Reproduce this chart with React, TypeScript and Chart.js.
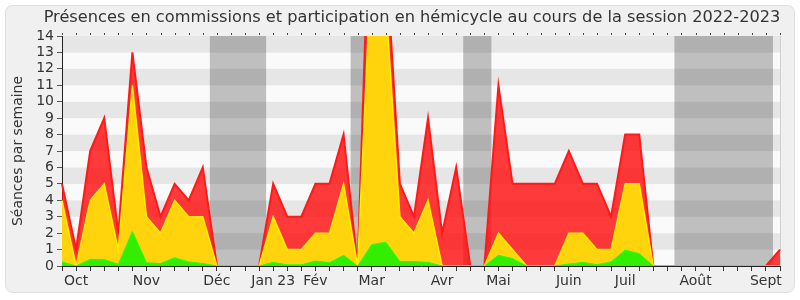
import React, { useEffect, useRef } from 'react';
import { Chart, registerables } from 'chart.js';

Chart.register(...registerables);

const titleText = 'Présences en commissions et participation en hémicycle au cours de la session 2022-2023';
const yTitle = 'Séances par semaine';

// one category per week (52 weeks), month name on the week where it is printed
const weekLabels = [
  '', 'Oct', '', '', '', '',
  'Nov', '', '', '', '',
  'Déc', '', '', '',
  'Jan 23', '', '',
  'Fév', '', '', '',
  'Mar', '', '', '', '',
  'Avr', '', '', '',
  'Mai', '', '', '', '',
  'Juin', '', '', '',
  'Juil', '', '', '', '',
  'Août', '', '', '', '',
  'Sept', '',
];

// total (red), commissions (yellow), hémicycle (green)
const redValues = [
  5, 1, 7, 9, 2, 13, 6, 3, 5, 4, 6, 0, 0, 0, 0, 5, 3, 3, 5, 5, 8, 0, 26, 19, 5, 3,
  9, 2, 6, 0, 0, 11, 5, 5, 5, 5, 7, 5, 5, 3, 8, 8, 0, 0, 0, 0, 0, 0, 0, 0, 0, 1,
];
const yellowValues = [
  4, 0, 4, 5, 1, 11, 3, 2, 4, 3, 3, 0, 0, 0, 0, 3, 1, 1, 2, 2, 5, 0, 19, 16, 3, 2,
  4, 0, 0, 0, 0, 2, 1, 0, 0, 0, 2, 2, 1, 1, 5, 5, 0, 0, 0, 0, 0, 0, 0, 0, 0, 0,
];
const greenValues = [
  0.25, 0, 0.4, 0.4, 0.1, 2.1, 0.2, 0.15, 0.5, 0.25, 0.15, 0, 0, 0, 0, 0.22, 0.07, 0.07, 0.3, 0.2, 0.65, 0, 1.3, 1.45, 0.27, 0.27,
  0.22, 0, 0, 0, 0, 0.65, 0.45, 0, 0, 0, 0.12, 0.22, 0.08, 0.25, 0.97, 0.75, 0, 0, 0, 0, 0, 0, 0, 0, 0, 0,
];

// holiday periods, in week-index units
const vacationBands: [number, number][] = [
  [10.5, 14.5],
  [20.5, 21.5],
  [28.5, 30.5],
  [43.5, 50.5],
];

const Y_MAX = 14;

const backgroundPlugin = {
  id: 'bgPanel',
  beforeDraw(chart: any) {
    const { ctx, chartArea, scales } = chart;
    const x = scales.x;
    const y = scales.y;
    ctx.save();
    ctx.fillStyle = '#ffffff';
    ctx.fillRect(0, 0, chart.width, chart.height);
    // panel
    const px = 5.5, py = 5.5, pw = 789, ph = 287, r = 7;
    ctx.beginPath();
    ctx.moveTo(px + r, py);
    ctx.lineTo(px + pw - r, py);
    ctx.arcTo(px + pw, py, px + pw, py + r, r);
    ctx.lineTo(px + pw, py + ph - r);
    ctx.arcTo(px + pw, py + ph, px + pw - r, py + ph, r);
    ctx.lineTo(px + r, py + ph);
    ctx.arcTo(px, py + ph, px, py + ph - r, r);
    ctx.lineTo(px, py + r);
    ctx.arcTo(px, py, px + r, py, r);
    ctx.closePath();
    ctx.fillStyle = '#f0f0f0';
    ctx.fill();
    ctx.strokeStyle = '#dedede';
    ctx.lineWidth = 1;
    ctx.stroke();
    // stripes
    for (let v = 0; v < Y_MAX; v++) {
      const yTop = y.getPixelForValue(v + 1);
      const yBot = y.getPixelForValue(v);
      ctx.fillStyle = v % 2 === 0 ? '#fafafa' : '#e6e6e6';
      ctx.fillRect(chartArea.left, yTop, chartArea.right - chartArea.left, yBot - yTop);
    }
    // vacation bands
    ctx.fillStyle = 'rgba(0,0,0,0.235)';
    for (const [a, b] of vacationBands) {
      const xa = x.getPixelForValue(a);
      const xb = x.getPixelForValue(b);
      ctx.fillRect(xa, chartArea.top, xb - xa, chartArea.bottom - chartArea.top);
    }
    // right frame line
    ctx.fillStyle = '#d0d0d0';
    ctx.fillRect(chartArea.right, chartArea.top, 1, chartArea.bottom - chartArea.top);
    ctx.restore();
  },
  afterDraw(chart: any) {
    const { ctx, chartArea, scales } = chart;
    const x = scales.x;
    ctx.save();
    // top tick dots
    ctx.fillStyle = '#444';
    for (let i = 0; i < weekLabels.length; i++) {
      const xp = Math.round(x.getPixelForValue(i));
      ctx.fillRect(xp, chartArea.top - 3, 1, 2);
    }
    // title
    ctx.fillStyle = '#333';
    ctx.font = '16.2px "DejaVu Sans"';
    ctx.textAlign = 'center';
    ctx.textBaseline = 'middle';
    ctx.fillText(titleText, 412, 18);
    // y title
    ctx.translate(18, (chartArea.top + chartArea.bottom) / 2);
    ctx.rotate(-Math.PI / 2);
    ctx.font = '14px "DejaVu Sans"';
    ctx.fillText(yTitle, 0, 0);
    ctx.restore();
  },
};

export default function App() {
  const ref = useRef<HTMLCanvasElement | null>(null);

  useEffect(() => {
    document.body.style.margin = '0';
    const canvas = ref.current;
    if (!canvas) return;
    const chart = new Chart(canvas, {
      type: 'line',
      data: {
        labels: weekLabels,
        datasets: [
          {
            label: 'Hémicycle',
            data: greenValues,
            order: 1,
            fill: 'origin',
            backgroundColor: '#33ee00',
            borderColor: '#22ff00',
            borderWidth: 1,
            pointRadius: 0,
            tension: 0,
          },
          {
            label: 'Commissions',
            data: yellowValues,
            order: 2,
            fill: 'origin',
            backgroundColor: '#ffd40c',
            borderColor: '#ffee00',
            borderWidth: 1.5,
            pointRadius: 0,
            tension: 0,
          },
          {
            label: 'Total',
            data: redValues,
            order: 3,
            fill: 'origin',
            backgroundColor: 'rgba(255,10,10,0.8)',
            borderColor: '#ff1a1a',
            borderWidth: 2,
            pointRadius: 0,
            tension: 0,
          },
        ],
      },
      options: {
        animation: false,
        responsive: false,
        devicePixelRatio: 1,
        layout: { padding: { top: 36, left: 0, right: 20, bottom: 0 } },
        plugins: {
          legend: { display: false },
          tooltip: { enabled: false },
          title: { display: false },
        },
        scales: {
          x: {
            type: 'category',
            offset: false,
            afterFit: (s: any) => { s.height = 34; },
            grid: {
              display: true,
              drawOnChartArea: false,
              drawTicks: true,
              tickLength: 5,
              color: '#333',
            },
            border: { display: true, color: '#222', width: 1 },
            ticks: {
              autoSkip: false,
              maxRotation: 0,
              minRotation: 0,
              padding: 2,
              color: '#333',
              font: { family: 'DejaVu Sans', size: 14 },
            },
          },
          y: {
            min: 0,
            max: Y_MAX,
            afterFit: (s: any) => { s.width = 62; },
            grid: {
              display: true,
              drawOnChartArea: false,
              drawTicks: true,
              tickLength: 5,
              color: '#555',
            },
            border: { display: true, color: '#222', width: 1 },
            ticks: {
              stepSize: 1,
              autoSkip: false,
              padding: 3,
              color: '#333',
              font: { family: 'DejaVu Sans', size: 14 },
            },
          },
        },
      },
      plugins: [backgroundPlugin],
    });
    return () => chart.destroy();
  }, []);

  return (
    <div style={{ position: 'absolute', left: 0, top: 0, width: 800, height: 300 }}>
      <canvas ref={ref} width={800} height={300} style={{ display: 'block', width: 800, height: 300 }} />
    </div>
  );
}
